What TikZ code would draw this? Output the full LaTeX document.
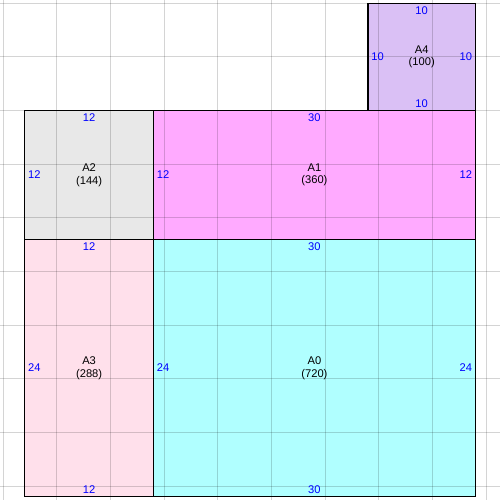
\documentclass[tikz,border=0pt]{standalone}
\usepackage{fontspec}
\setmainfont{Liberation Sans}
\definecolor{cA0}{RGB}{176,255,255}
\definecolor{cA1}{RGB}{255,170,255}
\definecolor{cA2}{RGB}{232,232,232}
\definecolor{cA3}{RGB}{255,224,235}
\definecolor{cA4}{RGB}{218,192,245}
\definecolor{dimblue}{RGB}{0,0,255}
\tikzset{
  gridline/.style={draw=black, draw opacity=0.17, line width=0.6pt},
  box/.style={draw=black, line width=0.9pt, inner sep=0pt, outer sep=0pt, align=center,
    font=\fontsize{7.4}{8.4}\selectfont},
  lab/.style={text=dimblue, inner sep=0pt, font=\fontsize{7.4}{8.4}\selectfont},
}
\begin{document}
\begin{tikzpicture}[x=0.25cm, y=-0.25cm]
\useasboundingbox[fill=white] (-0.308,-0.308) rectangle (46.30,46.30);
% fills
\fill[cA4] (34,0) rectangle (44,10);
\fill[cA2] (2,10) rectangle (14,22);
\fill[cA1] (14,10) rectangle (44,22);
\fill[cA3] (2,22) rectangle (14,46);
\fill[cA0] (14,22) rectangle (44,46);
% grid
\foreach \g in {0,5,...,45} {
  \draw[gridline] (\g,-0.308) -- (\g,46.30);
  \draw[gridline] (-0.308,\g) -- (46.30,\g);
}
% boxes
\node[box, minimum width=2.5cm, minimum height=2.5cm] (A4) at (39,5) {A4\\(100)};
\node[box, minimum width=3cm, minimum height=3cm] (A2) at (8,16) {A2\\(144)};
\node[box, minimum width=7.5cm, minimum height=3cm] (A1) at (29,16) {A1\\(360)};
\node[box, minimum width=3cm, minimum height=6cm] (A3) at (8,34) {A3\\(288)};
\node[box, minimum width=7.5cm, minimum height=6cm] (A0) at (29,34) {A0\\(720)};
% dimension labels
\node[lab] (A4t) at ([yshift=-0.165cm]A4.north) {10};
\node[lab, anchor=west] (A4l) at ([xshift=0.07cm]A4.west) {10};
\node[lab, anchor=east] (A4r) at ([xshift=-0.07cm]A4.east) {10};
\node[lab] (A4b) at ([yshift=0.165cm]A4.south) {10};
\node[lab] (A2t) at ([yshift=-0.165cm]A2.north) {12};
\node[lab, anchor=west] (A2l) at ([xshift=0.07cm]A2.west) {12};
\node[lab] (A1t) at ([yshift=-0.165cm]A1.north) {30};
\node[lab, anchor=west] (A1l) at ([xshift=0.07cm]A1.west) {12};
\node[lab, anchor=east] (A1r) at ([xshift=-0.07cm]A1.east) {12};
\node[lab] (A3t) at ([yshift=-0.165cm]A3.north) {12};
\node[lab, anchor=west] (A3l) at ([xshift=0.07cm]A3.west) {24};
\node[lab] (A3b) at ([yshift=0.165cm]A3.south) {12};
\node[lab] (A0t) at ([yshift=-0.165cm]A0.north) {30};
\node[lab, anchor=west] (A0l) at ([xshift=0.07cm]A0.west) {24};
\node[lab, anchor=east] (A0r) at ([xshift=-0.07cm]A0.east) {24};
\node[lab] (A0b) at ([yshift=0.165cm]A0.south) {30};
\end{tikzpicture}
\end{document}
